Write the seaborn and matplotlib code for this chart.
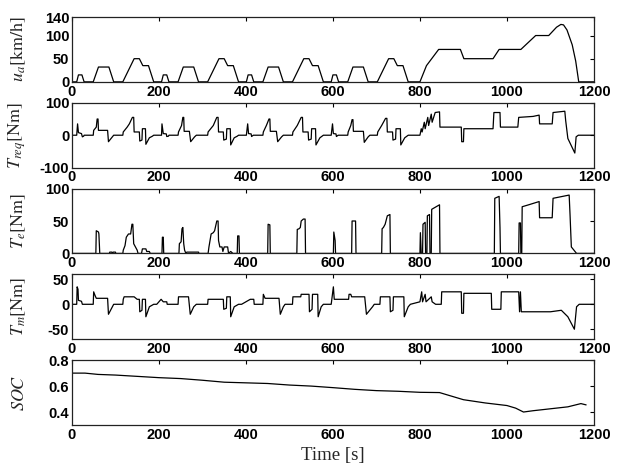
import numpy as np
import pandas as pd
import matplotlib
matplotlib.use('Agg')
import matplotlib.pyplot as plt
import seaborn as sns

# vehicle speed u_a [km/h] (4 ECE cycles + EUDC)
speed_t = [0, 11, 15, 23, 28, 49, 61, 85, 96, 117, 143, 155, 163, 176, 188,
           206, 210, 218, 223, 244, 256, 280, 291, 312, 338, 350, 358, 371, 383,
           401, 405, 413, 418, 439, 451, 475, 486, 507, 533, 545, 553, 566, 578,
           596, 600, 608, 613, 634, 646, 670, 681, 702, 728, 740, 748, 761, 773,
           800, 815, 827, 843, 893, 901, 968, 982, 1032, 1066, 1096, 1114, 1124, 1130,
           1138, 1150, 1158, 1165, 1200]
speed_v = [0, 0, 15, 15, 0, 0, 32, 32, 0, 0, 50, 50, 35, 35, 0,
           0, 15, 15, 0, 0, 32, 32, 0, 0, 50, 50, 35, 35, 0,
           0, 15, 15, 0, 0, 32, 32, 0, 0, 50, 50, 35, 35, 0,
           0, 15, 15, 0, 0, 32, 32, 0, 0, 50, 50, 35, 35, 0,
           0, 35, 50, 70, 70, 50, 50, 70, 70, 100, 100, 118, 124, 123,
           112, 80, 45, 0, 0]

# required torque T_req [Nm]
treq_t = [0, 11, 13, 15, 22, 24, 27, 28,
          49, 50, 56, 58, 60, 61, 82, 84, 93, 96,
          117, 118, 127, 132, 139, 142, 143, 155, 156, 161, 162, 169, 170, 178, 185, 188,
          206, 207, 210, 217, 218, 222, 223,
          244, 245, 252, 255, 257, 258, 270, 273, 282, 286,
          312, 313, 325, 333, 336, 337, 348, 349, 355, 356, 364, 365, 373, 380, 383,
          401, 404, 406, 412, 413, 417,
          439, 440, 447, 453, 455, 456, 470, 473, 482, 486,
          507, 508, 518, 527, 530, 531, 543, 544, 550, 551, 560, 561, 570, 575, 578,
          596, 599, 601, 607, 608, 612,
          634, 635, 641, 644, 646, 647, 670, 672, 681, 685,
          702, 703, 712, 721, 724, 725, 737, 738, 744, 745, 755, 756, 765, 770, 773,
          800, 803, 805, 810, 812, 818, 820, 826, 828, 835, 845, 846, 895, 896, 900, 901,
          968, 970, 984, 985, 1025, 1027, 1060, 1074, 1075, 1104, 1106, 1133, 1135,
          1140, 1147, 1156, 1159, 1164, 1200]
treq_v = [0, 0, 35, 8, 5, -5, -3, 0,
          0, 15, 25, 50, 50, 15, 15, -20, -5, 0,
          0, 10, 25, 35, 55, 55, 10, 10, -18, -15, 20, 20, -28, -8, -3, 0,
          0, 35, 5, 4, -4, -3, 0,
          0, 10, 30, 55, 55, 12, 12, -20, -5, 0,
          0, 10, 30, 55, 55, 10, 10, -15, -12, 20, 20, -30, -8, -3, 0,
          0, 35, 5, 4, -4, 0,
          0, 10, 30, 50, 50, 12, 12, -20, -5, 0,
          0, 10, 30, 55, 55, 10, 10, -15, -12, 20, 20, -30, -8, -3, 0,
          0, 35, 5, 4, -4, 0,
          0, 10, 30, 48, 48, 12, 12, -22, -5, 0,
          0, 10, 30, 52, 52, 10, 10, -15, -12, 20, 20, -30, -8, -3, 0,
          0, 20, 10, 40, 20, 55, 30, 65, 40, 70, 72, 25, 25, -20, -20, 20,
          20, 70, 70, 25, 25, 55, 58, 62, 35, 35, 70, 74, 45,
          -10, -30, -55, -5, 0, 0]

# engine torque T_e [Nm]
te_t = [0, 55, 56, 61, 62, 64, 86, 87, 92, 93, 95, 100, 101,
        117, 118, 122, 125, 130, 135, 138, 140, 142, 146, 150, 152, 160, 162, 170, 172, 178, 180,
        207, 208, 210, 211,
        246, 247, 251, 253, 255, 257, 259, 262, 264, 291, 292,
        313, 315, 320, 325, 328, 333, 336, 337, 340, 345, 347, 350, 358, 360, 365, 370,
        380, 381, 384, 385,
        450, 451, 455, 456,
        517, 518, 522, 525, 527, 532, 536, 537,
        601, 602, 605, 606,
        643, 644, 652, 653,
        712, 713, 716, 720, 725, 731, 732,
        800, 801, 803, 806, 807, 812, 813, 816, 817, 822, 823, 826, 827, 845, 846,
        971, 972, 982, 984, 985,
        1027, 1028, 1031, 1032, 1034, 1035, 1050, 1074, 1075, 1104, 1106, 1143, 1145, 1148, 1160, 1200]
te_v = [0, 0, 35, 33, 30, 0, 0, 2, 2, 0, 2, 2, 0,
        0, 5, 12, 25, 30, 30, 45, 45, 15, 10, 5, 0, 0, 7, 7, 3, 3, 0,
        0, 25, 25, 0,
        0, 15, 18, 38, 40, 15, 5, 0, 2, 2, 0,
        0, 10, 30, 32, 35, 50, 50, 20, 10, 10, 3, 10, 10, 0, 3, 0,
        0, 27, 27, 0,
        0, 45, 44, 0,
        0, 37, 38, 40, 50, 53, 53, 0,
        0, 33, 20, 0,
        0, 50, 50, 0,
        0, 38, 40, 45, 58, 60, 0,
        0, 32, 0, 0, 45, 48, 0, 0, 58, 60, 0, 0, 68, 75, 0,
        0, 85, 88, 40, 0,
        0, 47, 47, 0, 0, 72, 75, 80, 55, 55, 85, 90, 60, 10, 0, 0]

# motor torque T_m [Nm]
tm_t = [0, 11, 12, 14, 15, 22, 24, 27,
        49, 50, 53, 56, 82, 84, 93, 96,
        117, 118, 120, 143, 150, 155, 156, 161, 162, 169, 170, 178, 188,
        195, 205, 210, 218, 219,
        244, 245, 268, 272, 280, 286,
        312, 313, 348, 349, 355, 356, 364, 365, 373, 383,
        390, 400, 410, 418, 419,
        439, 440, 444, 476, 479, 486, 490,
        507, 508, 526, 527, 545, 546, 552, 553, 565, 566, 573, 578,
        596, 601, 603, 636, 637, 641, 643, 673, 677, 691, 695,
        708, 709, 731, 732, 738, 739, 745, 763, 764, 773, 778,
        800, 804, 806, 812, 814, 826, 828, 836, 849, 850, 895, 896, 900, 901,
        964, 965, 986, 987, 1027, 1029, 1031, 1033, 1036, 1100, 1125, 1140, 1155, 1160, 1166, 1200]
tm_v = [0, 0, 35, 30, 8, 6, 0, 0,
        0, 25, 18, 12, 12, -20, -5, 0,
        0, 10, 15, 15, 10, 10, -15, -12, 10, 10, -25, -5, 0,
        0, 10, 5, 5, 0,
        0, 15, 15, -20, -5, 0,
        0, 10, 10, -10, -8, 15, 15, -25, -5, 0,
        0, 5, 10, 10, 0,
        0, 20, 12, 12, -20, -5, 0,
        0, 15, 15, 20, 20, -15, -10, 20, 20, -25, -5, 0,
        0, 35, 10, 10, 20, 20, 15, 15, -20, -5, 0,
        0, 15, 15, -15, -12, 15, 15, 15, -25, -5, 0,
        5, 25, 5, 20, 5, 15, 5, 0, 0, 25, 25, -18, -18, 22,
        22, -10, -10, 25, 25, -15, 25, -15, -15, -15, -12, -25, -50, -5, 0, 0]

# battery state of charge
soc_t = [0, 30, 60, 100, 150, 200, 250, 300, 350, 400, 450, 500, 550, 600, 650,
         700, 750, 800, 845, 870, 900, 950, 1000, 1020, 1038, 1060, 1100, 1140, 1170, 1182]
soc_v = [0.700, 0.700, 0.690, 0.685, 0.675, 0.665, 0.658, 0.645, 0.630, 0.625, 0.620,
         0.608, 0.600, 0.588, 0.575, 0.565, 0.560, 0.552, 0.550, 0.525, 0.495, 0.470,
         0.450, 0.430, 0.400, 0.410, 0.425, 0.440, 0.465, 0.455]

panels = [
    (speed_t, speed_v, r'$u_a$[km/h]', (0, 140), [0, 50, 100, 140]),
    (treq_t, treq_v, r'$T_{req}$[Nm]', (-100, 100), [-100, 0, 100]),
    (te_t, te_v, r'$T_e$[Nm]', (0, 100), [0, 50, 100]),
    (tm_t, tm_v, r'$T_m$[Nm]', (-70, 60), [-50, 0, 50]),
    (soc_t, soc_v, r'$SOC$', (0.3, 0.8), [0.4, 0.6, 0.8]),
]

sns.set_theme(style='white')
plt.rcParams['font.family'] = ['Liberation Sans', 'DejaVu Sans']
plt.rcParams['mathtext.fontset'] = 'stix'
plt.rcParams['axes.unicode_minus'] = False

fig, axes = plt.subplots(5, 1, figsize=(6.2, 4.66), dpi=100)
fig.subplots_adjust(left=0.116, right=0.958, top=0.9635, bottom=0.088, hspace=0.323)

for ax, (t, v, label, ylim, yticks) in zip(axes, panels):
    df = pd.DataFrame({'t': t, 'v': v})
    sns.lineplot(data=df, x='t', y='v', ax=ax, color='black', lw=0.9,
                 sort=False, estimator=None, errorbar=None)
    ax.set_xlim(0, 1200)
    ax.set_ylim(*ylim)
    ax.set_xticks(range(0, 1201, 200))
    ax.set_yticks(yticks)
    ax.set_xlabel('')
    ax.set_ylabel(label, fontsize=13, family='STIXGeneral')
    ax.yaxis.set_label_coords(-0.085, 0.5)
    ax.tick_params(direction='in', length=3, width=0.8, top=True, right=True,
                   labelsize=10.5, pad=2, colors='black')
    for lab in ax.get_xticklabels() + ax.get_yticklabels():
        lab.set_fontweight('bold')
    for sp in ax.spines.values():
        sp.set_color('#222222')
        sp.set_linewidth(0.9)

axes[-1].set_xlabel('Time [s]', fontsize=13.5, family='Liberation Serif', labelpad=4)

fig.savefig('out.png', dpi=100)
